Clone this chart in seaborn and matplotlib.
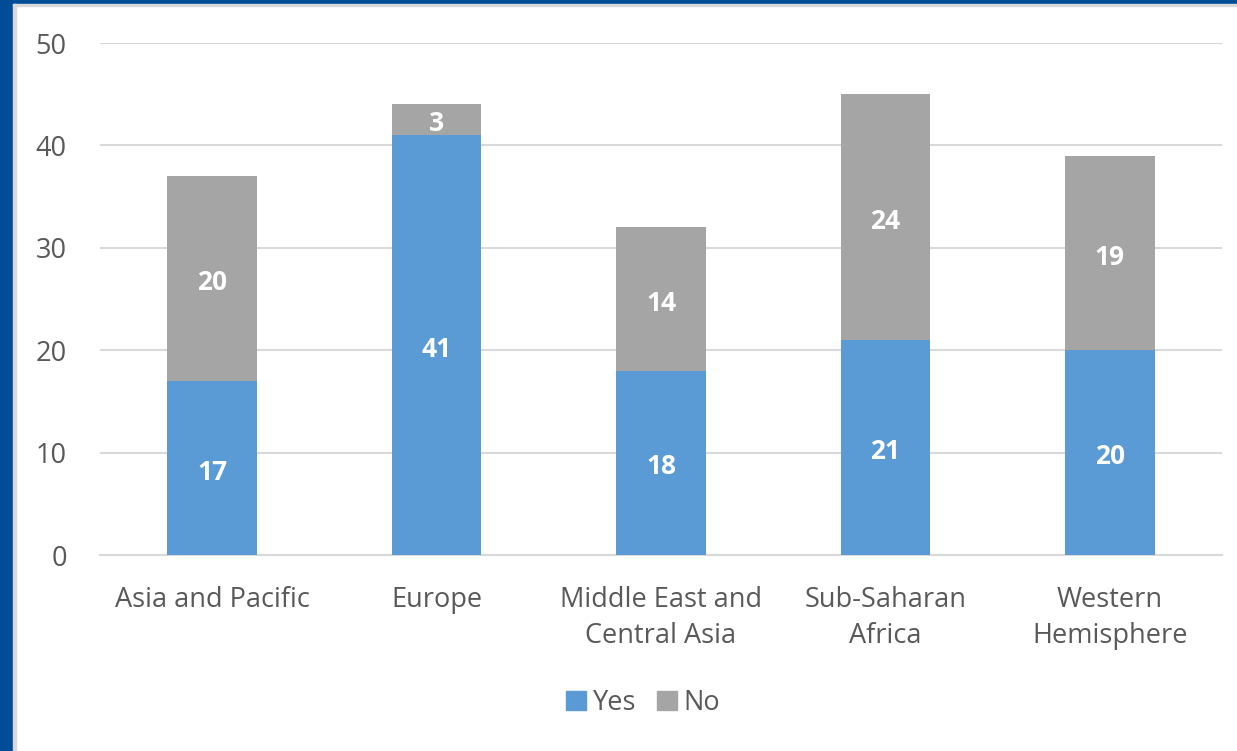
import matplotlib

matplotlib.use("Agg")
import matplotlib.pyplot as plt
import seaborn as sns
import pandas as pd
from matplotlib.patches import Rectangle, Patch

regions = ["Asia and Pacific", "Europe", "Middle East and\nCentral Asia",
           "Sub-Saharan\nAfrica", "Western\nHemisphere"]
yes_vals = [17, 41, 18, 21, 20]
no_vals = [20, 3, 14, 24, 19]

YES_COLOR = "#5B9BD5"
NO_COLOR = "#A5A5A5"
TEXT_COLOR = "#595959"

df = pd.DataFrame({"region": regions, "yes": yes_vals, "no": no_vals})
df["total"] = df["yes"] + df["no"]

sns.set_style("white")
plt.rcParams["font.family"] = ["Open Sans", "DejaVu Sans"]

W, H = 1237, 751
fig = plt.figure(figsize=(W / 100, H / 100), dpi=100)
ax = fig.add_axes([100 / W, 1 - 555 / H, 1122 / W, 512 / H])

# stacked bars: grey total first, blue "yes" over it
sns.barplot(data=df, x="region", y="total", color=NO_COLOR, width=0.4,
            saturation=1, linewidth=0, ax=ax, zorder=2)
sns.barplot(data=df, x="region", y="yes", color=YES_COLOR, width=0.4,
            saturation=1, linewidth=0, ax=ax, zorder=3)

ax.set_ylim(0, 50)
ax.set_yticks(range(0, 51, 10))
ax.yaxis.grid(True, color="#D9D9D9", linewidth=1.5, zorder=0)
ax.set_axisbelow(True)
for s in ["top", "right", "left"]:
    ax.spines[s].set_visible(False)
ax.spines["bottom"].set_color("#D9D9D9")
ax.spines["bottom"].set_linewidth(1.5)
ax.set_xlabel("")
ax.set_ylabel("")
ax.tick_params(axis="both", length=0, labelsize=19.5, colors=TEXT_COLOR)
ax.tick_params(axis="y", pad=24)
ax.tick_params(axis="x", pad=22)
for lbl in ax.get_xticklabels():
    lbl.set_linespacing(1.38)

# data labels (nudged a bit down so the digits sit in the segment centre)
for i, (y, n) in enumerate(zip(yes_vals, no_vals)):
    ax.text(i, y / 2 - 0.4, str(y), ha="center", va="center", color="white",
            fontsize=19, fontweight="bold", zorder=5)
    ax.text(i, y + n / 2 - 0.4, str(n), ha="center", va="center", color="white",
            fontsize=19, fontweight="bold", zorder=5)

handles = [Patch(color=YES_COLOR, label="Yes"), Patch(color=NO_COLOR, label="No")]
fig.legend(handles=handles, loc="center", bbox_to_anchor=(643 / W, 1 - 703 / H),
           ncol=2, frameon=False, fontsize=19.5, handlelength=0.75, handleheight=0.75,
           handletextpad=0.25, columnspacing=0.75, labelcolor=TEXT_COLOR)

# blue frame at left and top edges
fig.patches.append(Rectangle((0, 0), 13 / W, 1, transform=fig.transFigure,
                             color="#004C97", zorder=10))
fig.patches.append(Rectangle((0, 1 - 4 / H), 1, 4 / H, transform=fig.transFigure,
                             color="#004C97", zorder=10))
fig.patches.append(Rectangle((13 / W, 0), 3 / W, 1 - 4 / H, transform=fig.transFigure,
                             color="#D9D9D9", zorder=10))
fig.patches.append(Rectangle((13 / W, 1 - 6 / H), 1, 2 / H, transform=fig.transFigure,
                             color="#D9D9D9", zorder=10))

fig.savefig("out.png", dpi=100)
